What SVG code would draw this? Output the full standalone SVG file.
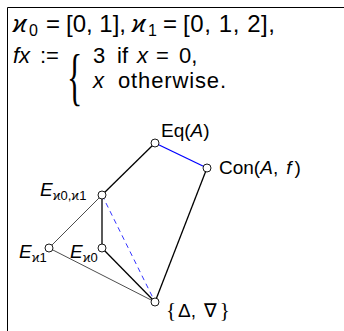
<svg xmlns="http://www.w3.org/2000/svg" width="344" height="331" viewBox="0 0 344 331">
<style>
text{font-family:"Liberation Sans","DejaVu Sans",sans-serif;fill:#000}
.m{font-size:24px}
.m2{font-size:22px}
.l{font-size:19px}
.i{font-style:italic}
.sub{font-size:16px}
.lsub{font-size:13px}
.br{font-family:"Liberation Serif",serif;font-size:21px}
.node{fill:#fff;stroke:#000;stroke-width:0.9}
.thick{stroke:#000;stroke-width:1.3;fill:none}
.thin{stroke:#000;stroke-width:0.7;fill:none}
.blue{stroke:#0000ff;stroke-width:1.3;fill:none}
.dash{stroke:#0000ff;stroke-width:0.8;stroke-dasharray:5 4;fill:none}
</style>
<rect width="344" height="331" fill="#fff"/>
<path d="M7.5 331V7.5H344" fill="none" stroke="#000" stroke-width="1"/>
<g id="formula">
<text class="m" y="32"><tspan x="13" class="i">ϰ</tspan><tspan x="29" y="36" class="sub">0</tspan><tspan x="46" y="32">=</tspan><tspan x="66">[0, 1],</tspan><tspan x="132" class="i">ϰ</tspan><tspan x="148" y="36" class="sub">1</tspan><tspan x="163" y="32">=</tspan><tspan x="183" textLength="92" lengthAdjust="spacing">[0, 1, 2],</tspan></text>
<text class="m2" y="63"><tspan x="13" class="i">fx</tspan><tspan x="40">:=</tspan><tspan x="93">3</tspan><tspan x="117">if</tspan><tspan x="137" class="i">x</tspan><tspan x="156">=</tspan><tspan x="179">0,</tspan></text>
<text class="m2" y="88"><tspan x="93" class="i">x</tspan><tspan x="118" textLength="108" lengthAdjust="spacing">otherwise.</tspan></text>
<text transform="translate(67,98) scale(0.5,1)" style="font-family:'Liberation Serif',serif;font-size:64px">{</text>
</g>
<g id="connectors">
<line class="blue" x1="155" y1="143" x2="207" y2="168"/>
<line class="thick" x1="155" y1="143" x2="102" y2="195"/>
<line class="thick" x1="207" y1="168" x2="155" y2="302"/>
<line class="thick" x1="102" y1="195" x2="102" y2="248"/>
<line class="thick" x1="102" y1="248" x2="155" y2="302"/>
<line class="thin" x1="102" y1="195" x2="49" y2="248"/>
<line class="thin" x1="49" y1="248" x2="155" y2="302"/>
<line class="dash" x1="102" y1="195" x2="155" y2="302"/>
</g>
<g id="eq"><circle class="node" cx="155" cy="143" r="4"/><text class="l" x="161" y="137">Eq(<tspan class="i">A</tspan>)</text></g>
<g id="con"><circle class="node" cx="207" cy="168" r="4"/><text class="l" x="219" y="174">Con(<tspan class="i">A</tspan>,<tspan class="i" dx="8">f</tspan><tspan dx="3">)</tspan></text></g>
<g id="e01"><circle class="node" cx="102" cy="195" r="4"/><text class="l" x="40" y="196"><tspan class="i">E</tspan><tspan class="lsub" dy="4">ϰ0,ϰ1</tspan></text></g>
<g id="e1"><circle class="node" cx="49" cy="248" r="4"/><text class="l" x="19" y="257.5"><tspan class="i">E</tspan><tspan class="lsub" dy="4">ϰ1</tspan></text></g>
<g id="e0"><circle class="node" cx="102" cy="248" r="4"/><text class="l" x="70" y="257.5"><tspan class="i">E</tspan><tspan class="lsub" dy="4">ϰ0</tspan></text></g>
<g id="bottom"><circle class="node" cx="155" cy="302" r="4"/><text class="l" x="166" y="317"><tspan class="br">{</tspan><tspan dx="2">Δ,</tspan><tspan dx="8">∇</tspan><tspan dx="3" class="br">}</tspan></text></g>
</svg>
